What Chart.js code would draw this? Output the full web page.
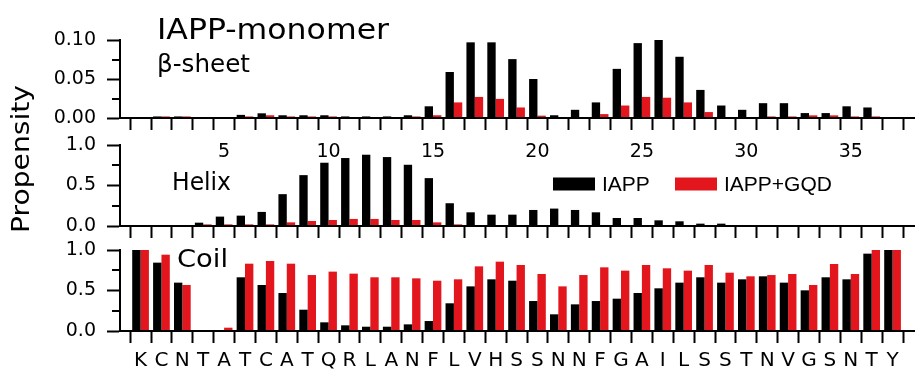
<!DOCTYPE html>
<html>
<head>
<meta charset="utf-8">
<script src="https://cdn.jsdelivr.net/npm/chart.js@4.4.1/dist/chart.umd.min.js"></script>
<style>
  html, body { margin: 0; padding: 0; background: #fff; overflow: hidden; }
  #wrap { position: relative; width: 915px; height: 374px; }
  #wrap canvas { position: absolute; left: 0; top: 0; }
</style>
</head>
<body>
<div id="wrap">
  <canvas id="sheet" width="915" height="374"></canvas>
  <canvas id="helix" width="915" height="374"></canvas>
  <canvas id="coil" width="915" height="374"></canvas>
</div>
<script>
// IAPP sequence, one letter per residue
const residues = ['K','C','N','T','A','T','C','A','T','Q','R','L','A','N','F','L','V','H','S',
                  'S','N','N','F','G','A','I','L','S','S','T','N','V','G','S','N','T','Y'];
const residueNumbers = residues.map((_, i) => i + 1);
const numberLabels = [5, 10, 15, 20, 25, 30, 35];

const seriesNames = ['IAPP', 'IAPP+GQD'];

// β-sheet propensity per residue
const sheetIAPP = [0, 0.002, 0.002, 0, 0, 0.004, 0.006, 0.0035, 0.0035, 0.0035, 0.002, 0.002, 0.002,
                   0.0035, 0.015, 0.059, 0.097, 0.097, 0.0755, 0.050, 0.0035, 0.0105, 0.020, 0.063,
                   0.096, 0.100, 0.0785, 0.036, 0.016, 0.0105, 0.019, 0.019, 0.0063, 0.0063, 0.015,
                   0.0135, 0];
const sheetGQD = [0, 0.002, 0.002, 0, 0, 0.002, 0.0035, 0.002, 0.002, 0.002, 0, 0, 0, 0.002, 0.0035,
                  0.020, 0.027, 0.0245, 0.0135, 0.003, 0, 0, 0.005, 0.016, 0.027, 0.026, 0.020, 0.0076,
                  0, 0, 0.002, 0.002, 0.0034, 0.0034, 0.002, 0.002, 0];

// Helix propensity per residue
const helixIAPP = [0, 0, 0, 0.041, 0.116, 0.128, 0.174, 0.393, 0.628, 0.781, 0.839, 0.880, 0.851,
                   0.756, 0.591, 0.281, 0.169, 0.140, 0.140, 0.198, 0.215, 0.198, 0.169, 0.099, 0.099,
                   0.070, 0.058, 0.029, 0.029, 0, 0, 0, 0, 0, 0, 0, 0];
const helixGQD = [0, 0, 0, 0.020, 0.020, 0.020, 0.020, 0.045, 0.062, 0.074, 0.087, 0.087, 0.074,
                  0.074, 0.045, 0.020, 0, 0, 0, 0, 0, 0, 0, 0, 0, 0, 0, 0, 0, 0, 0, 0, 0, 0, 0, 0, 0];

// Coil propensity per residue
const coilIAPP = [1.0, 0.844, 0.597, 0, 0, 0.663, 0.568, 0.469, 0.263, 0.107, 0.070, 0.053, 0.053,
                  0.082, 0.123, 0.342, 0.551, 0.638, 0.621, 0.370, 0.206, 0.329, 0.370, 0.399, 0.469,
                  0.527, 0.597, 0.663, 0.597, 0.638, 0.675, 0.597, 0.502, 0.663, 0.638, 0.955, 1.0];
const coilGQD = [1.0, 0.942, 0.568, 0, 0.041, 0.831, 0.864, 0.831, 0.691, 0.733, 0.708, 0.663, 0.663,
                 0.650, 0.621, 0.638, 0.798, 0.856, 0.815, 0.704, 0.551, 0.691, 0.786, 0.745, 0.815,
                 0.774, 0.745, 0.815, 0.720, 0.675, 0.691, 0.704, 0.568, 0.827, 0.704, 1.0, 1.0];

// y-axis ticks
const sheetTicks = [0, 0.05, 0.10];
const sheetMinorTicks = [0.025, 0.075];
const fractionTicks = [0, 0.5, 1.0];
const fractionMinorTicks = [0.25, 0.75];

const BLACK = '#000000';
const RED = '#e3161d';
const GOTHIC = "'DejaVu Sans', sans-serif";
const ARIAL = "'Liberation Sans', Arial, sans-serif";

const toPoints = arr => arr.map((v, i) => ({ x: residueNumbers[i], y: v }));

// Text drawn with an optional horizontal stretch to a given width
function drawText(ctx, t) {
  ctx.save();
  ctx.font = `${t.size}px ${t.family || GOTHIC}`;
  ctx.fillStyle = '#000';
  ctx.textBaseline = t.baseline || 'alphabetic';
  ctx.textAlign = t.align || 'left';
  const w = ctx.measureText(t.text).width;
  const sx = t.width ? t.width / w : 1;
  ctx.translate(t.x, t.y);
  if (t.rotate) ctx.rotate(t.rotate);
  ctx.scale(sx, 1);
  ctx.fillText(t.text, 0, 0);
  ctx.restore();
}

// Minor y ticks, panel captions and the inline legend
const panelDecor = {
  id: 'panelDecor',
  afterDraw(chart, args, opts) {
    const ctx = chart.ctx;
    const y = chart.scales.y;
    ctx.save();
    ctx.strokeStyle = '#000';
    ctx.lineWidth = 2;
    (opts.minor || []).forEach(v => {
      const py = Math.round(y.getPixelForValue(v));
      ctx.beginPath();
      ctx.moveTo(chart.chartArea.left - 8, py);
      ctx.lineTo(chart.chartArea.left, py);
      ctx.stroke();
    });
    (opts.texts || []).forEach(t => drawText(ctx, t));
    if (opts.legend) {
      const lg = opts.legend;
      chart.data.datasets.forEach((ds, i) => {
        const x0 = lg.xs[i];
        ctx.fillStyle = ds.backgroundColor;
        ctx.fillRect(x0, lg.y - 6.5, 42, 13);
        drawText(ctx, { text: ds.label, x: x0 + 49, y: lg.y + 1, size: 21, family: ARIAL, baseline: 'middle' });
      });
    }
    ctx.restore();
  }
};

function panelChart(id, iapp, gqd, cfg) {
  return new Chart(document.getElementById(id), {
    type: 'bar',
    data: {
      datasets: [
        { label: seriesNames[0], data: toPoints(iapp), backgroundColor: BLACK },
        { label: seriesNames[1], data: toPoints(gqd), backgroundColor: RED }
      ]
    },
    options: {
      responsive: false,
      animation: false,
      events: [],
      layout: { padding: { top: cfg.top, left: 0, right: 0, bottom: 0 } },
      datasets: { bar: { categoryPercentage: 0.8, barPercentage: 1 } },
      plugins: {
        legend: { display: false },
        tooltip: { enabled: false },
        panelDecor: cfg.decor
      },
      scales: {
        x: {
          type: 'linear',
          min: 0.53,
          max: 37.56,
          afterBuildTicks: s => { s.ticks = residueNumbers.map(v => ({ value: v })); },
          afterFit: s => { s.height = 374 - cfg.bottom; },
          grid: { drawOnChartArea: false, tickLength: 12, tickWidth: 2, tickColor: '#000' },
          border: { color: '#000', width: 2, z: 1 },
          ticks: {
            autoSkip: false, maxRotation: 0, padding: cfg.xPad, color: '#000',
            font: { family: GOTHIC, size: cfg.xSize },
            callback: cfg.xLabel
          }
        },
        y: {
          min: 0,
          max: cfg.max,
          afterBuildTicks: s => { s.ticks = cfg.ticks.map(v => ({ value: v })); },
          afterFit: s => { s.width = 120; },
          grid: { drawOnChartArea: false, tickLength: 13, tickWidth: 2, tickColor: '#000' },
          border: { color: '#000', width: 2, z: 1 },
          ticks: {
            padding: 11, color: '#000',
            font: { family: GOTHIC, size: 19 },
            callback: v => Number(v).toFixed(cfg.digits)
          }
        }
      }
    },
    plugins: [panelDecor]
  });
}

panelChart('sheet', sheetIAPP, sheetGQD, {
  top: 40, bottom: 118, max: 0.10, ticks: sheetTicks, digits: 2,
  xPad: 11, xSize: 19,
  xLabel: v => numberLabels.includes(v) ? String(v) : '',
  decor: {
    minor: sheetMinorTicks,
    texts: [
      { text: 'IAPP-monomer', x: 157, y: 39, size: 28, width: 232 },
      { text: 'β-sheet', x: 157, y: 72, size: 24, width: 93 }
    ]
  }
});

panelChart('helix', helixIAPP, helixGQD, {
  top: 145, bottom: 226, max: 1.0, ticks: fractionTicks, digits: 1,
  xPad: 0, xSize: 18,
  xLabel: () => '',
  decor: {
    minor: fractionMinorTicks,
    texts: [
      { text: 'Helix', x: 172, y: 190, size: 24, width: 59 },
      { text: 'Propensity', x: 29, y: 159, size: 24, width: 148, align: 'center', rotate: -Math.PI / 2 }
    ],
    legend: { xs: [553, 675], y: 184 }
  }
});

panelChart('coil', coilIAPP, coilGQD, {
  top: 250, bottom: 331, max: 1.0, ticks: fractionTicks, digits: 1,
  xPad: 6, xSize: 20,
  xLabel: v => residues[v - 1] || '',
  decor: {
    minor: fractionMinorTicks,
    texts: [
      { text: 'Coil', x: 177, y: 267, size: 25, width: 51 }
    ]
  }
});
</script>
</body>
</html>
